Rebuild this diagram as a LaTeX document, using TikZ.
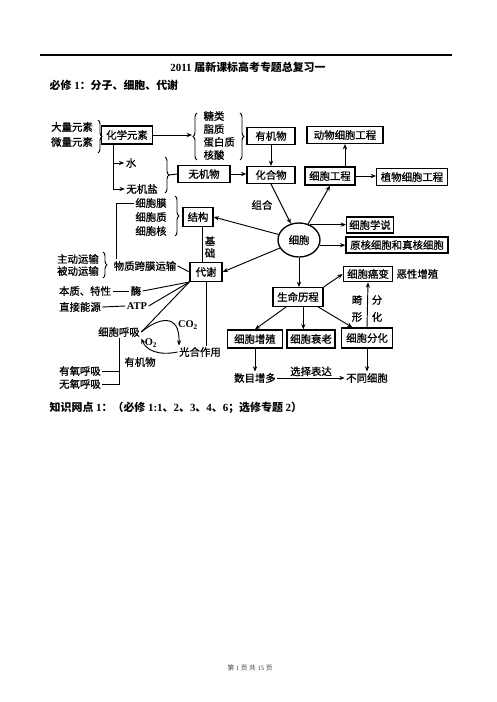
\documentclass[tikz,border=0pt]{standalone}
\usepackage{fontspec}
\setmainfont{Liberation Serif}
\newfontfamily\cjk{Noto Sans CJK SC}
\newfontfamily\cjkd{Noto Sans CJK SC}[FakeBold=0.9]
\usetikzlibrary{arrows.meta,shapes.geometric,decorations.pathreplacing}
\begin{document}
\begin{tikzpicture}[x=0.75pt,y=-0.75pt,
  f/.style={font=\cjkd\fontsize{7.8}{9}\selectfont},
  bx/.style={draw,line width=1pt,inner sep=1pt,f,minimum height=12.5pt},
  tx/.style={inner sep=1pt,f},
  lt/.style={inner sep=1pt,font=\bfseries\fontsize{7.8}{9}\selectfont},
  ar/.style={-{Stealth[length=4pt,width=3.2pt]},line width=0.7pt},
  ln/.style={line width=0.7pt},
  br/.style={decorate,decoration={brace,amplitude=3pt},line width=0.7pt}]
\useasboundingbox (0,0) rectangle (496,702);
\fill[white] (0,0) rectangle (496,702);
% header
\draw[line width=0.8pt] (40,55) -- (452,55);
\node[font=\bfseries\fontsize{8.2}{10}\selectfont] (title) at (248,67) {2011 {\cjk 届新课标高考专题总复习一}};
\node[anchor=west,font=\bfseries\fontsize{8.2}{10}\selectfont] (sub) at (45,85) {{\cjk 必修} 1{\cjk ：分子、细胞、代谢}};
% elements
\node[tx] (dl) at (72,127) {大量元素};
\node[tx] (wl) at (72,142) {微量元素};
\draw[br] (98,120) -- (98,153);
\node[bx,minimum width=38pt,minimum height=13.5pt] (hx) at (127,135) {化学元素};
\coordinate (b2) at (192,135);
\draw[ar] (hx.east) -- (b2);
\draw[br] (197,160) -- (197,113);
\node[tx,anchor=west] (tl) at (202,116) {糖类};
\node[tx,anchor=west] (zz) at (202,129) {脂质};
\node[tx,anchor=west] (dbz) at (202,142) {蛋白质};
\node[tx,anchor=west] (hs) at (202,155) {核酸};
\draw[br] (240,113) -- (240,160);
\node[bx,minimum width=36pt] (yjw) at (271,136) {有机物};
\node[bx,minimum width=57pt] (dwgc) at (345,135) {动物细胞工程};
\node[bx,minimum width=36pt] (hhw) at (271,175) {化合物};
\draw[ar] (yjw) -- (hhw);
\node[bx,minimum width=37.5pt,minimum height=13.5pt] (xbgc) at (330,176) {细胞工程};
\node[bx,minimum width=53pt,minimum height=13pt] (zwgc) at (412,177) {植物细胞工程};
\draw[ar] (dwgc.south |- xbgc.north) -- (dwgc.south);
\draw[ar] (xbgc.east) -- (xbgc.east -| zwgc.west);
% water, salts
\coordinate (v1) at (113,144);
\node[tx] (shui) at (131,163) {水};
\node[tx] (wjy) at (142,189) {无机盐};
\draw[ar] (v1) |- (shui.west);
\draw[ar] (v1) |- (wjy.west);
\draw[br] (165,157) -- (165,193);
\node[bx,minimum width=39pt] (wjw) at (204,174) {无机物};
\coordinate (b4) at (169,175);
\draw[ln] (b4) -- (wjw.west);
\draw[ar] (wjw.east) -- (wjw.east -| hhw.west);
% structure
\node[tx] (xbm) at (151,203) {细胞膜};
\node[tx] (xbz) at (151,217) {细胞质};
\node[tx] (xbh) at (151,231) {细胞核};
\draw[br] (175,196) -- (175,236);
\node[bx,minimum width=22.5pt,minimum height=14pt] (jg) at (198,217) {结构};
\node[bx,minimum width=24pt,minimum height=14pt] (dx) at (206,272) {代谢};
\coordinate (j1) at (202,226);
\draw[ln] (j1) -- (j1 |- dx.north);
\node[tx] (ji) at (210,241) {基};
\node[tx] (chu) at (210,253) {础};
\node[tx] (zd) at (78,259) {主动运输};
\node[tx] (bd) at (78,271) {被动运输};
\draw[br] (103,252) -- (103,278);
\node[tx] (wz) at (145,266) {物质跨膜运输};
\coordinate (c1) at (116,259);
\draw[ln] (c1) |- (xbm.west);
\draw[ln] (wz.east) -- (dx.west);
% cell
\node[draw,ellipse,line width=1pt,minimum width=31.5pt,minimum height=25.5pt,inner sep=0pt,f] (xb) at (299,240) {细胞};
\draw[ar] (hhw.south) -- (xb);
\node[tx] (zh) at (262,205) {组合};
\draw[ar] (xb) -- (xbgc.south);
\draw[ar] (xb) -- (jg.east);
\draw[ar] (xb) -- (dx.east);
\node[bx,minimum width=35pt,minimum height=12pt] (xbxs) at (370,225) {细胞学说};
\node[bx,minimum width=76.5pt,minimum height=12pt] (yh) at (397,245) {原核细胞和真核细胞};
\draw[ar] (xb.55) -- (xb.55 -| xbxs.west);
\draw[ar] (xb.346) -- (xb.346 -| yh.west);
% life course
\node[bx,minimum width=37.5pt,minimum height=14pt] (smlc) at (298,297) {生命历程};
\draw[ar] (xb.south) -- (xb.south |- smlc.north);
\node[bx,minimum width=37pt,minimum height=11.5pt] (xbay) at (368,274) {细胞癌变};
\node[tx,anchor=west] (exzz) at (395,274) {恶性增殖};
\draw[ar] (smlc.north east) -- (xbay.west);
\node[bx,minimum width=41pt,minimum height=13.5pt] (xbzz) at (255,339) {细胞增殖};
\node[bx,minimum width=36pt,minimum height=13.5pt] (xbsl) at (311,339) {细胞衰老};
\node[bx,minimum width=38pt,minimum height=15pt] (xbfh) at (367,338) {细胞分化};
\coordinate (s0) at ([xshift=-9pt]smlc.south);
\draw[ar] (s0) -- (xbzz.north);
\coordinate (s1) at ([xshift=4pt]smlc.south);
\draw[ar] (s1) -- (s1 |- xbsl.north);
\coordinate (s2) at ([xshift=-4pt]smlc.south east);
\coordinate (s3) at ([xshift=-11pt]xbfh.north);
\draw[ar] (s2) -- (s3);
\draw[ar] (xbfh.north) -- (xbay.south);
\node[tx] (jx1) at (357,300) {畸};
\node[tx] (jx2) at (357,317) {形};
\node[tx] (fh1) at (377,300) {分};
\node[tx] (fh2) at (377,317) {化};
\node[tx] (smzd) at (255,378) {数目增多};
\node[tx] (btxb) at (367,378) {不同细胞};
\draw[ar] (xbzz.south) -- (smzd.north);
\draw[ar] (xbfh.south) -- (btxb.north);
\draw[ar] (smzd.east) -- (btxb.west) node[midway,above,tx] (xzbd) {选择表达};
% metabolism, left bottom
\node[tx] (bz) at (85,291) {本质、特性};
\node[tx] (mei) at (136,291) {酶};
\draw[ln] (bz.east) -- (mei.west);
\node[tx] (zj) at (80,307) {直接能源};
\node[lt] (atp) at (137,306) {ATP};
\draw[ln] (zj.east) -- (atp.west);
\draw[ln] (dx.south west) -- (mei.east);
\draw[ln] (dx.south west) -- (atp.east);
\node[tx] (hxx) at (119,332) {细胞呼吸};
\draw[ln] (dx.south west) -- (hxx.east);
\node[tx] (ghzy) at (200,352) {光合作用};
\draw[ln] (dx.south) -- (dx.south |- ghzy.north);
\coordinate (g1) at ([xshift=1pt]ghzy.north west);
\draw[ar] (hxx.east) .. controls (158,318) and (180,312) .. (g1);
\node[lt] (co2) at (188,325) {CO\textsubscript{2}};
\draw[ar] (ghzy.west) .. controls (158,356) and (146,350) .. (hxx.south east);
\node[lt] (o2) at (151,343) {O\textsubscript{2}};
\node[tx] (yjw2) at (140,362) {有机物};
\node[tx] (yy) at (80,371) {有氧呼吸};
\node[tx] (wy) at (80,384) {无氧呼吸};
\draw[ln] (hxx.south) |- (yy.east);
\draw[ln] (hxx.south) |- (wy.east);
% bottom texts
\node[anchor=west,font=\bfseries\fontsize{8.2}{10}\selectfont] (zswd) at (45,408) {{\cjk 知识网点} 1{\cjk ：（必修} 1:1{\cjk 、}2{\cjk 、}3{\cjk 、}4{\cjk 、}6{\cjk ；选修专题} 2{\cjk ）}};
\node[font=\fontsize{5}{6}\selectfont,text=black!75] (ft) at (250,668) {{\cjk 第} 1 {\cjk 页} {\cjk 共} 15 {\cjk 页}};
\end{tikzpicture}
\end{document}
